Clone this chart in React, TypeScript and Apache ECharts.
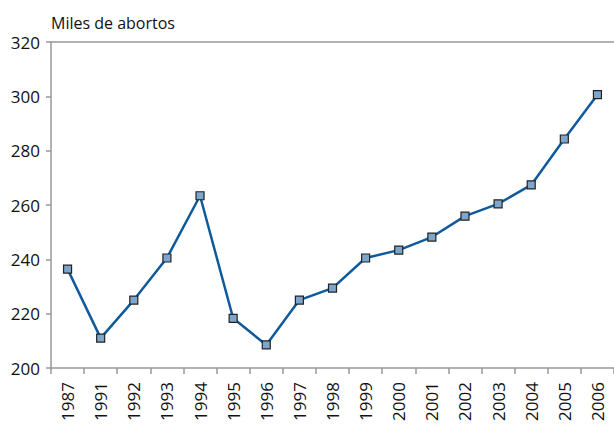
import React, { useEffect, useRef } from "react";
import * as echarts from "echarts";

const years = ["1987", "1991", "1992", "1993", "1994", "1995", "1996", "1997", "1998", "1999", "2000", "2001", "2002", "2003", "2004", "2005", "2006"];
const abortos = [236.4, 211, 225, 240.5, 263.4, 218.3, 208.5, 225, 229.4, 240.5, 243.4, 248.2, 255.9, 260.4, 267.4, 284.3, 300.6];
const yTitle = "Miles de abortos";

const FONT = "'Open Sans', 'Noto Sans', sans-serif";

export default function App() {
  const ref = useRef<HTMLDivElement>(null);
  useEffect(() => {
    if (!ref.current) return;
    const chart = echarts.init(ref.current, undefined, { renderer: "svg" });
    chart.setOption({
      animation: false,
      backgroundColor: "#ffffff",
      title: {
        text: yTitle,
        left: 51,
        top: 15,
        padding: 0,
        textStyle: { fontFamily: FONT, fontSize: 16, fontWeight: "normal", color: "#111" },
      },
      grid: { left: 51, top: 42, bottom: 56, right: -12, containLabel: false },
      xAxis: [
        {
          type: "category",
          data: years,
          boundaryGap: true,
          axisLine: { lineStyle: { color: "#999", width: 1.5 } },
          axisTick: { show: true, length: 6, lineStyle: { color: "#999", width: 1.5 } },
          axisLabel: { rotate: 90, margin: 14, fontFamily: FONT, fontSize: 17, color: "#111", interval: 0 },
        },
        {
          type: "category",
          data: years,
          position: "top",
          axisLine: { show: true, lineStyle: { color: "#999", width: 1.5 } },
          axisTick: { show: false },
          axisLabel: { show: false },
        },
      ],
      yAxis: {
        type: "value",
        min: 200,
        max: 320,
        interval: 20,
        axisLine: { show: true, lineStyle: { color: "#999", width: 1.5 } },
        axisTick: { show: true, length: 5, lineStyle: { color: "#999", width: 1.5 } },
        splitLine: { show: false },
        axisLabel: { margin: 11, fontFamily: FONT, fontSize: 17, color: "#111" },
      },
      series: [
        {
          type: "line",
          data: abortos,
          symbol: "rect",
          symbolSize: 8,
          lineStyle: { color: "#0f5a9c", width: 2.5 },
          itemStyle: { color: "#7ea6cc", borderColor: "#222", borderWidth: 1.2 },
        },
      ],
    });
    return () => chart.dispose();
  }, []);
  return (
    <div
      ref={ref}
      style={{ position: "fixed", left: 0, top: 0, width: 614, height: 424 }}
    />
  );
}
